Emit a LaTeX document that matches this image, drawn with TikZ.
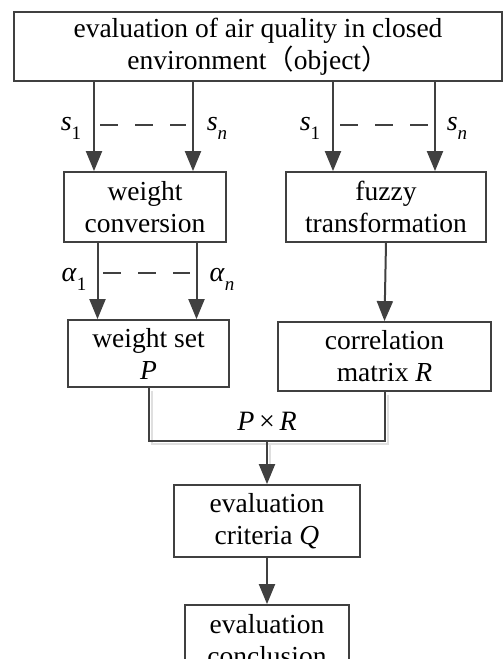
\documentclass[tikz,border=0pt]{standalone}
\usepackage{fontspec}
\setmainfont{Liberation Serif}
\newfontfamily\cjk{Noto Sans CJK SC}
\usetikzlibrary{arrows.meta}
\definecolor{linegray}{HTML}{404040}
\tikzstyle{arrow} = [-{Triangle[width=16pt,length=20pt]},draw=linegray,line width=2pt]
\tikzstyle{box} = [draw=linegray,line width=1.8pt,rectangle,align=center,inner sep=0pt,font=\fontsize{27.5}{32}\selectfont]
\tikzstyle{dots} = [draw=linegray,line width=1.2pt,dash pattern=on 18pt off 17pt]
\tikzstyle{lbl} = [font=\fontsize{28}{30}\selectfont,inner sep=0pt]
\newcommand{\lowidx}[1]{\raisebox{-0.7ex}{\fontsize{19}{20}\selectfont #1}}

\begin{document}
\begin{tikzpicture}[x=1pt,y=-1pt]
        \useasboundingbox (0,0) rectangle (503,659);
        \node[box, minimum width=488pt, minimum height=69pt] at (258,46.5) (top) {evaluation of air quality in closed\\environment{\cjk （}object{\cjk ）}};
        \node[box, minimum width=162pt, minimum height=70pt] at (145,207) (WC) {weight\\conversion};
        \node[box, minimum width=200pt, minimum height=70pt] at (386,207) (FT) {fuzzy\\transformation};
        \node[box, minimum width=161pt, minimum height=67pt] at (148.5,353.5) (WS) {weight set\\\textit{P}};
        \node[box, minimum width=213pt, minimum height=69pt] at (384.5,356.5) (CM) {correlation\\matrix \textit{R}};
        \node[box, minimum width=186pt, minimum height=72pt] at (267,521) (EC) {evaluation\\criteria \textit{Q}};
        \node[box, minimum width=164pt, minimum height=70pt] at (267,640) (CO) {evaluation\\conclusion};
        \coordinate (join) at (267,441);

        \draw[arrow] ([xshift=-51pt]WC.north |- top.south) -- ([xshift=-51pt]WC.north);
        \draw[arrow] ([xshift=48pt]WC.north |- top.south) -- ([xshift=48pt]WC.north);
        \draw[arrow] ([xshift=-53pt]FT.north |- top.south) -- ([xshift=-53pt]FT.north);
        \draw[arrow] ([xshift=49pt]FT.north |- top.south) -- ([xshift=49pt]FT.north);
        \draw[dots] (100,125) -- (186,125);
        \draw[dots] (340,125) -- (429,125);
        \node[lbl] at (71,128) (s1a) {\textit{s}\lowidx{1}};
        \node[lbl] at (217,128) (sna) {\textit{s}\lowidx{\textit{n}}};
        \node[lbl] at (310,128) (s1b) {\textit{s}\lowidx{1}};
        \node[lbl] at (457,128) (snb) {\textit{s}\lowidx{\textit{n}}};

        \draw[arrow] ([xshift=-51pt]WS.north |- WC.south) -- ([xshift=-51pt]WS.north);
        \draw[arrow] ([xshift=48pt]WS.north |- WC.south) -- ([xshift=48pt]WS.north);
        \draw[dots] (103,273) -- (190,273);
        \node[lbl] at (74,279) (a1) {\textit{α}\lowidx{1}};
        \node[lbl] at (222,279) (an) {\textit{α}\lowidx{\textit{n}}};
        \draw[arrow] (FT.south) -- (CM.north);

        \draw[gray!25, line width=2pt] ([shift={(3,3)}]WS.south) |- ([shift={(3,3)}]join) -| ([shift={(3,3)}]CM.south);
        \draw[gray!25, line width=2pt] ([shift={(3,3)}]join) -- ([shift={(3,-8)}]EC.north);
        \draw[draw=linegray, line width=2pt] (WS.south) |- (join) -| (CM.south);
        \node[lbl] at (267,421) (PR) {\textit{P}\,×\,\textit{R}};
        \draw[arrow] (join) -- (EC.north);
        \draw[arrow] (EC.south) -- (CO.north);
    \end{tikzpicture}
\end{document}
